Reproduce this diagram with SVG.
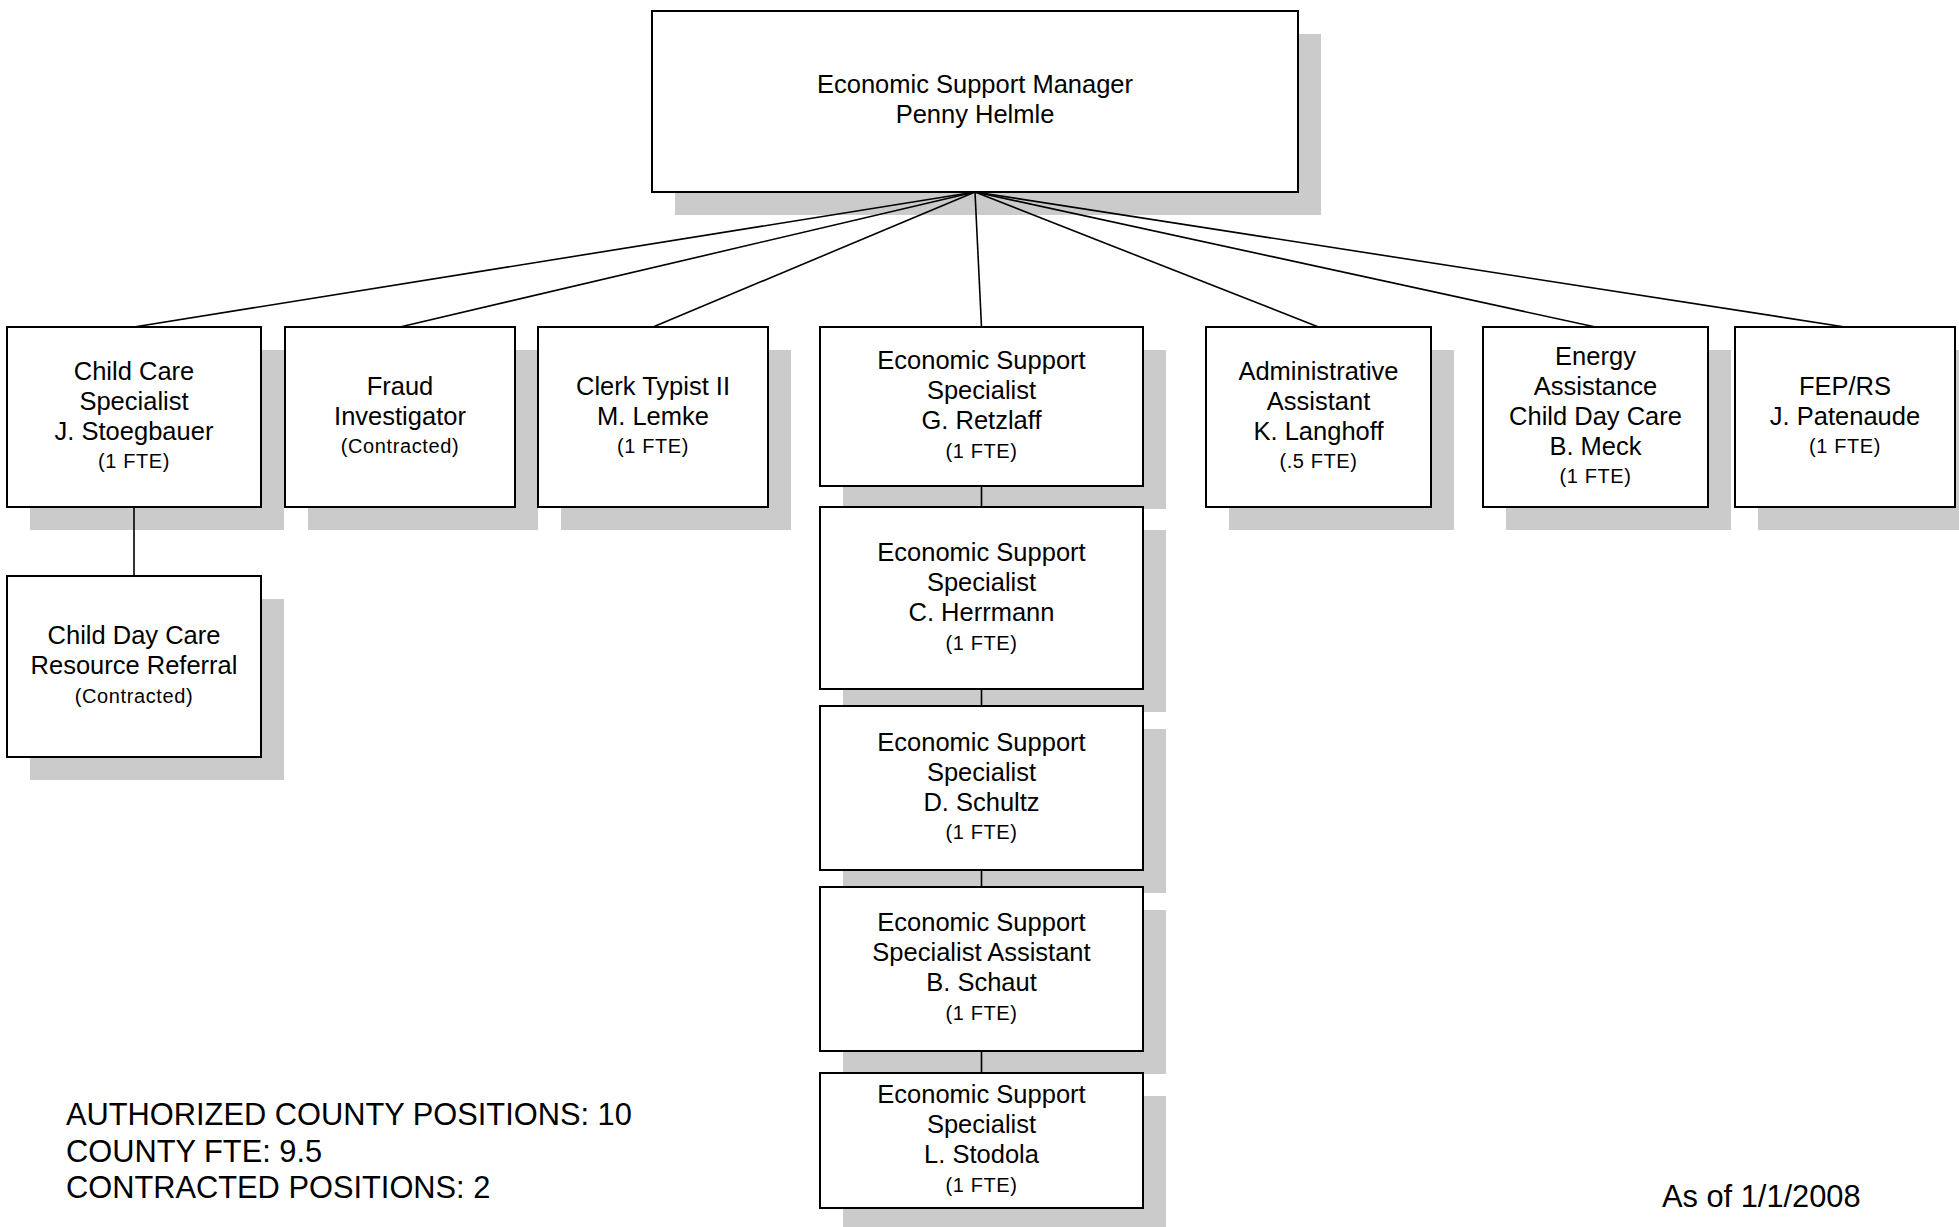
<svg xmlns="http://www.w3.org/2000/svg" width="1959" height="1227" viewBox="0 0 1959 1227">
<style>
.sh{fill:#cbcbcb}
.box{fill:#fff;stroke:#000;stroke-width:2}
.c{stroke:#000;stroke-width:1.6;fill:none}
text{font-family:"Liberation Sans",Arial,sans-serif;fill:#000}
.t{font-size:25.5px;text-anchor:middle}
.s{font-size:20px;letter-spacing:0.6px;text-anchor:middle}
.n{font-size:30.8px}
</style>
<rect width="1959" height="1227" fill="#fff"/>
<g id="manager">
<rect class="sh" x="675" y="34" width="646" height="181"/>
<rect class="box" x="652" y="11" width="646" height="181"/>
<text class="t" x="975" y="93">Economic Support Manager</text>
<text class="t" x="975" y="123">Penny Helmle</text>
</g>
<g id="child-care-specialist">
<rect class="sh" x="30" y="350" width="254" height="180"/>
<rect class="box" x="7" y="327" width="254" height="180"/>
<text class="t" x="134" y="379.5">Child Care</text>
<text class="t" x="134" y="409.5">Specialist</text>
<text class="t" x="134" y="439.5">J. Stoegbauer</text>
<text class="s" x="134" y="468">(1 FTE)</text>
</g>
<g id="fraud-investigator">
<rect class="sh" x="308" y="350" width="230" height="180"/>
<rect class="box" x="285" y="327" width="230" height="180"/>
<text class="t" x="400" y="394.5">Fraud</text>
<text class="t" x="400" y="424.5">Investigator</text>
<text class="s" x="400" y="453">(Contracted)</text>
</g>
<g id="clerk-typist">
<rect class="sh" x="561" y="350" width="230" height="180"/>
<rect class="box" x="538" y="327" width="230" height="180"/>
<text class="t" x="653" y="394.5">Clerk Typist II</text>
<text class="t" x="653" y="424.5">M. Lemke</text>
<text class="s" x="653" y="453">(1 FTE)</text>
</g>
<g id="ess-retzlaff">
<rect class="sh" x="843" y="350" width="323" height="159"/>
<rect class="box" x="820" y="327" width="323" height="159"/>
<text class="t" x="981.5" y="369">Economic Support</text>
<text class="t" x="981.5" y="399">Specialist</text>
<text class="t" x="981.5" y="429">G. Retzlaff</text>
<text class="s" x="981.5" y="457.5">(1 FTE)</text>
</g>
<g id="administrative-assistant">
<rect class="sh" x="1229" y="350" width="225" height="180"/>
<rect class="box" x="1206" y="327" width="225" height="180"/>
<text class="t" x="1318.5" y="379.5">Administrative</text>
<text class="t" x="1318.5" y="409.5">Assistant</text>
<text class="t" x="1318.5" y="439.5">K. Langhoff</text>
<text class="s" x="1318.5" y="468">(.5 FTE)</text>
</g>
<g id="energy-assistance">
<rect class="sh" x="1506" y="350" width="225" height="180"/>
<rect class="box" x="1483" y="327" width="225" height="180"/>
<text class="t" x="1595.5" y="364.5">Energy</text>
<text class="t" x="1595.5" y="394.5">Assistance</text>
<text class="t" x="1595.5" y="424.5">Child Day Care</text>
<text class="t" x="1595.5" y="454.5">B. Meck</text>
<text class="s" x="1595.5" y="483">(1 FTE)</text>
</g>
<g id="fep-rs">
<rect class="sh" x="1758" y="350" width="220" height="180"/>
<rect class="box" x="1735" y="327" width="220" height="180"/>
<text class="t" x="1845" y="394.5">FEP/RS</text>
<text class="t" x="1845" y="424.5">J. Patenaude</text>
<text class="s" x="1845" y="453">(1 FTE)</text>
</g>
<g id="child-day-care-referral">
<rect class="sh" x="30" y="599" width="254" height="181"/>
<rect class="box" x="7" y="576" width="254" height="181"/>
<text class="t" x="134" y="644">Child Day Care</text>
<text class="t" x="134" y="674">Resource Referral</text>
<text class="s" x="134" y="702.5">(Contracted)</text>
</g>
<g id="ess-herrmann">
<rect class="sh" x="843" y="530" width="323" height="182"/>
<rect class="box" x="820" y="507" width="323" height="182"/>
<text class="t" x="981.5" y="561">Economic Support</text>
<text class="t" x="981.5" y="591">Specialist</text>
<text class="t" x="981.5" y="621">C. Herrmann</text>
<text class="s" x="981.5" y="649.5">(1 FTE)</text>
</g>
<g id="ess-schultz">
<rect class="sh" x="843" y="729" width="323" height="164"/>
<rect class="box" x="820" y="706" width="323" height="164"/>
<text class="t" x="981.5" y="750.5">Economic Support</text>
<text class="t" x="981.5" y="780.5">Specialist</text>
<text class="t" x="981.5" y="810.5">D. Schultz</text>
<text class="s" x="981.5" y="839">(1 FTE)</text>
</g>
<g id="essa-schaut">
<rect class="sh" x="843" y="910" width="323" height="164"/>
<rect class="box" x="820" y="887" width="323" height="164"/>
<text class="t" x="981.5" y="931">Economic Support</text>
<text class="t" x="981.5" y="961">Specialist Assistant</text>
<text class="t" x="981.5" y="991">B. Schaut</text>
<text class="s" x="981.5" y="1019.5">(1 FTE)</text>
</g>
<g id="ess-stodola">
<rect class="sh" x="843" y="1096" width="323" height="135"/>
<rect class="box" x="820" y="1073" width="323" height="135"/>
<text class="t" x="981.5" y="1103">Economic Support</text>
<text class="t" x="981.5" y="1133">Specialist</text>
<text class="t" x="981.5" y="1163">L. Stodola</text>
<text class="s" x="981.5" y="1191.5">(1 FTE)</text>
</g>
<g id="connectors" class="c">
<line x1="975" y1="192" x2="134" y2="327"/>
<line x1="975" y1="192" x2="400" y2="327"/>
<line x1="975" y1="192" x2="653" y2="327"/>
<line x1="975" y1="192" x2="981.5" y2="327"/>
<line x1="975" y1="192" x2="1318.5" y2="327"/>
<line x1="975" y1="192" x2="1595.5" y2="327"/>
<line x1="975" y1="192" x2="1845" y2="327"/>
<line x1="134" y1="507" x2="134" y2="576"/>
<line x1="981.5" y1="486" x2="981.5" y2="507"/>
<line x1="981.5" y1="689" x2="981.5" y2="706"/>
<line x1="981.5" y1="870" x2="981.5" y2="887"/>
<line x1="981.5" y1="1051" x2="981.5" y2="1073"/>
</g>
<g id="notes">
<text class="n" x="66" y="1125">AUTHORIZED COUNTY POSITIONS: 10</text>
<text class="n" x="66" y="1162">COUNTY FTE: 9.5</text>
<text class="n" x="66" y="1198">CONTRACTED POSITIONS: 2</text>
<text class="n" x="1662" y="1207">As of 1/1/2008</text>
</g>
</svg>
